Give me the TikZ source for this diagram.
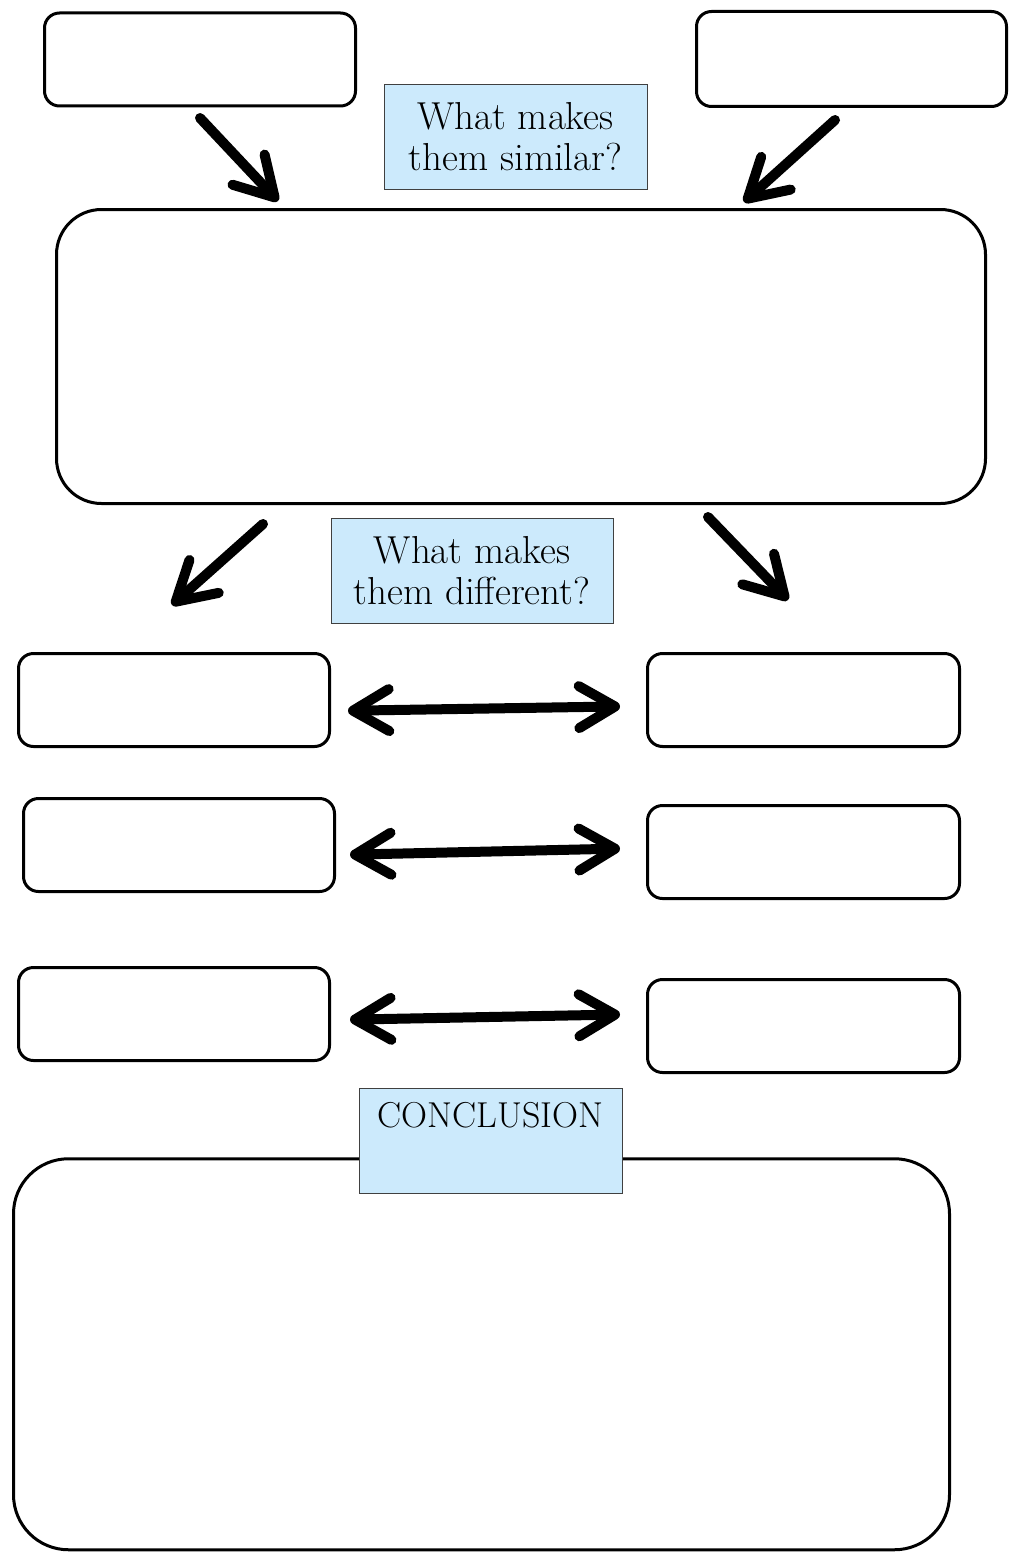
\documentclass[tikz,border=0pt]{standalone}
\usepackage{tikz}
\usepackage{color}
\usetikzlibrary{arrows.meta}

\definecolor{questionblue}{HTML}{CCEAFC}

\begin{document}
\begin{tikzpicture}[x=0.5pt, y=-0.5pt,
	blank/.style={draw, line width=1.5pt, rounded corners=7.5pt, inner sep=0pt, minimum width=155.5pt, minimum height=46.5pt},
	bigblank/.style={draw, line width=1.5pt, inner sep=0pt},
	question/.style={draw=black!75, fill=questionblue, line width=0.5pt, inner sep=0pt, align=center, font=\fontsize{19.5}{20.5}\selectfont},
	fat/.style={line width=5pt, line cap=round, -{Straight Barb[length=19pt, width=22pt, round]}},
	twoway/.style={line width=5pt, line cap=round, {Straight Barb[length=18pt, width=21pt, round]}-{Straight Barb[length=18pt, width=21pt, round]}}]
	\useasboundingbox (0, 0) rectangle (1008, 1552);

	% top boxes
	\node[blank] (tl) at (200, 59.5) {};
	\node[blank, minimum width=155pt, minimum height=47.5pt] (tr) at (851.5, 59) {};

	% similar
	\node[bigblank, rounded corners=22.5pt, minimum width=464.5pt, minimum height=147pt] (sim) at (521, 356.5) {};
	\node[question, minimum width=131.5pt, minimum height=52pt] (simq) at (515.5, 137) {What makes\\them similar?};

	\coordinate (tla) at (200, 118);
	\coordinate (tlb) at (278, 201);
	\coordinate (tra) at (835, 120);
	\coordinate (trb) at (744, 202);
	\draw[fat] (tla) -- (tlb);
	\draw[fat] (tra) -- (trb);

	% different
	\node[question, minimum width=141pt, minimum height=52.5pt] (diffq) at (472, 570.5) {What makes\\them different?};

	\coordinate (sima) at (263, 524);
	\coordinate (simb) at (172, 605);
	\coordinate (simc) at (708, 517);
	\coordinate (simd) at (788, 600);
	\draw[fat] (sima) -- (simb);
	\draw[fat] (simc) -- (simd);

	% rows
	\node[blank] (l1) at (174, 700) {};
	\node[blank] (l2) at (179, 845) {};
	\node[blank] (l3) at (174, 1014) {};
	\node[blank, minimum width=156pt] (r1) at (803.5, 700) {};
	\node[blank, minimum width=156pt] (r2) at (803.5, 852) {};
	\node[blank, minimum width=156pt] (r3) at (803.5, 1026) {};

	\draw[twoway, shorten <=8.5pt, shorten >=13pt] ([yshift=-5.5pt]l1.east) -- ([yshift=-3pt]r1.west);
	\draw[twoway, shorten <=7pt, shorten >=13pt] ([yshift=-5pt]l2.east) -- ([yshift=2pt]r2.west);
	\draw[twoway, shorten <=9.5pt, shorten >=13pt] ([yshift=-3pt]l3.east) -- ([yshift=6pt]r3.west);

	% conclusion
	\node[bigblank, rounded corners=27.5pt, minimum width=468pt, minimum height=195.5pt] (conc) at (481.5, 1354.25) {};
	\node[question, font=\fontsize{18}{20.5}\selectfont, minimum width=131.5pt, text height=19.5pt, text depth=33pt, anchor=north] (concq) at (490.5, 1088) {CONCLUSION};

\end{tikzpicture}
\end{document}
